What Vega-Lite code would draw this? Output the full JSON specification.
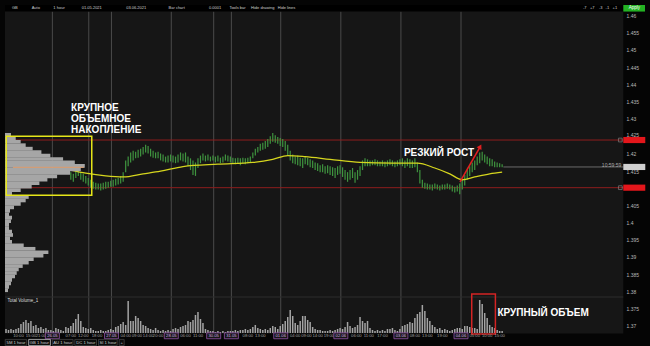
{
"$schema": "https://vega.github.io/schema/vega-lite/v6.json",
"width": 650, "height": 346, "padding": 0, "autosize": "none",
"background": "#050505",
"config": {"view": {"fill": "#050505", "stroke": null}, "font": "Liberation Sans", "axisX": {"disable": true}, "axisY": {"disable": true}},
"datasets": {
"vol": [{"h":0,"v":4},{"h":1,"v":3},{"h":2,"v":4},{"h":3,"v":3},{"h":4,"v":4},{"h":5,"v":5},{"h":6,"v":9},{"h":7,"v":11},{"h":8,"v":13},{"h":9,"v":10},{"h":10,"v":12},{"h":11,"v":7},{"h":12,"v":8},{"h":13,"v":5},{"h":14,"v":6},{"h":15,"v":4},{"h":16,"v":5},{"h":17,"v":3},{"h":18,"v":3},{"h":19,"v":2},{"h":20,"v":5},{"h":21,"v":4},{"h":22,"v":3},{"h":23,"v":2},{"h":24,"v":6},{"h":25,"v":5},{"h":26,"v":7},{"h":27,"v":10},{"h":28,"v":14},{"h":29,"v":19},{"h":30,"v":12},{"h":31,"v":6},{"h":32,"v":5},{"h":33,"v":4},{"h":34,"v":5},{"h":35,"v":3},{"h":36,"v":2},{"h":37,"v":2},{"h":38,"v":3},{"h":39,"v":2},{"h":40,"v":2},{"h":41,"v":3},{"h":42,"v":4},{"h":43,"v":3},{"h":44,"v":6},{"h":45,"v":7},{"h":46,"v":9},{"h":47,"v":11},{"h":48,"v":8},{"h":49,"v":32},{"h":50,"v":12},{"h":51,"v":12},{"h":52,"v":17},{"h":53,"v":15},{"h":54,"v":12},{"h":55,"v":8},{"h":56,"v":7},{"h":57,"v":5},{"h":58,"v":4},{"h":59,"v":3},{"h":60,"v":5},{"h":61,"v":3},{"h":62,"v":2},{"h":63,"v":3},{"h":64,"v":2},{"h":65,"v":3},{"h":66,"v":2},{"h":67,"v":4},{"h":68,"v":5},{"h":69,"v":4},{"h":70,"v":6},{"h":71,"v":7},{"h":72,"v":8},{"h":73,"v":12},{"h":74,"v":11},{"h":75,"v":13},{"h":76,"v":18},{"h":77,"v":21},{"h":78,"v":14},{"h":79,"v":10},{"h":80,"v":4},{"h":81,"v":3},{"h":82,"v":2},{"h":83,"v":2},{"h":84,"v":1},{"h":85,"v":2},{"h":86,"v":1},{"h":87,"v":2},{"h":88,"v":1},{"h":89,"v":2},{"h":90,"v":2},{"h":91,"v":2},{"h":92,"v":3},{"h":93,"v":2},{"h":94,"v":3},{"h":95,"v":3},{"h":96,"v":4},{"h":97,"v":3},{"h":98,"v":4},{"h":99,"v":6},{"h":100,"v":8},{"h":101,"v":5},{"h":102,"v":4},{"h":103,"v":3},{"h":104,"v":4},{"h":105,"v":3},{"h":106,"v":5},{"h":107,"v":7},{"h":108,"v":6},{"h":109,"v":4},{"h":110,"v":7},{"h":111,"v":9},{"h":112,"v":12},{"h":113,"v":16},{"h":114,"v":23},{"h":115,"v":17},{"h":116,"v":10},{"h":117,"v":8},{"h":118,"v":12},{"h":119,"v":17},{"h":120,"v":17},{"h":121,"v":13},{"h":122,"v":11},{"h":123,"v":6},{"h":124,"v":4},{"h":125,"v":3},{"h":126,"v":3},{"h":127,"v":2},{"h":128,"v":2},{"h":129,"v":2},{"h":130,"v":3},{"h":131,"v":2},{"h":132,"v":3},{"h":133,"v":4},{"h":134,"v":5},{"h":135,"v":4},{"h":136,"v":6},{"h":137,"v":11},{"h":138,"v":7},{"h":139,"v":5},{"h":140,"v":6},{"h":141,"v":8},{"h":142,"v":16},{"h":143,"v":12},{"h":144,"v":10},{"h":145,"v":12},{"h":146,"v":5},{"h":147,"v":3},{"h":148,"v":2},{"h":149,"v":3},{"h":150,"v":2},{"h":151,"v":3},{"h":152,"v":2},{"h":153,"v":4},{"h":154,"v":4},{"h":155,"v":5},{"h":156,"v":3},{"h":157,"v":2},{"h":158,"v":4},{"h":159,"v":7},{"h":160,"v":8},{"h":161,"v":9},{"h":162,"v":11},{"h":163,"v":10},{"h":164,"v":15},{"h":165,"v":19},{"h":166,"v":21},{"h":167,"v":28},{"h":168,"v":22},{"h":169,"v":15},{"h":170,"v":12},{"h":171,"v":8},{"h":172,"v":6},{"h":173,"v":4},{"h":174,"v":5},{"h":175,"v":3},{"h":176,"v":4},{"h":177,"v":3},{"h":178,"v":2},{"h":179,"v":3},{"h":180,"v":4},{"h":181,"v":5},{"h":182,"v":5},{"h":183,"v":4},{"h":184,"v":7},{"h":185,"v":7},{"h":186,"v":6},{"h":187,"v":5},{"h":188,"v":5},{"h":189,"v":4},{"h":190,"v":33},{"h":191,"v":29},{"h":192,"v":20},{"h":193,"v":15},{"h":194,"v":8},{"h":195,"v":6},{"h":196,"v":5},{"h":197,"v":3},{"h":198,"v":2},{"h":199,"v":2}],
"ohlc": [{"h":26,"lo":1.4125,"hi":1.4147},{"h":27,"lo":1.4119,"hi":1.4142},{"h":28,"lo":1.413,"hi":1.4153},{"h":29,"lo":1.4136,"hi":1.4158},{"h":30,"lo":1.4125,"hi":1.4147},{"h":31,"lo":1.4119,"hi":1.4142},{"h":32,"lo":1.4114,"hi":1.4136},{"h":33,"lo":1.4108,"hi":1.413},{"h":34,"lo":1.4102,"hi":1.4125},{"h":35,"lo":1.4099,"hi":1.4119},{"h":36,"lo":1.4097,"hi":1.4116},{"h":37,"lo":1.4097,"hi":1.4114},{"h":38,"lo":1.4094,"hi":1.4114},{"h":39,"lo":1.4097,"hi":1.4116},{"h":40,"lo":1.4099,"hi":1.4119},{"h":41,"lo":1.4102,"hi":1.4119},{"h":42,"lo":1.4105,"hi":1.4122},{"h":43,"lo":1.4105,"hi":1.4125},{"h":44,"lo":1.4108,"hi":1.4128},{"h":45,"lo":1.4111,"hi":1.413},{"h":46,"lo":1.4114,"hi":1.4136},{"h":47,"lo":1.4119,"hi":1.4147},{"h":48,"lo":1.4147,"hi":1.4181},{"h":49,"lo":1.4164,"hi":1.4192},{"h":50,"lo":1.4175,"hi":1.4204},{"h":51,"lo":1.4181,"hi":1.4209},{"h":52,"lo":1.4187,"hi":1.4206},{"h":53,"lo":1.4189,"hi":1.4212},{"h":54,"lo":1.4192,"hi":1.4215},{"h":55,"lo":1.4198,"hi":1.422},{"h":56,"lo":1.4204,"hi":1.4226},{"h":57,"lo":1.4201,"hi":1.4223},{"h":58,"lo":1.4192,"hi":1.4215},{"h":59,"lo":1.4189,"hi":1.4209},{"h":60,"lo":1.4187,"hi":1.4204},{"h":61,"lo":1.4187,"hi":1.4206},{"h":62,"lo":1.4181,"hi":1.4201},{"h":63,"lo":1.4178,"hi":1.4198},{"h":64,"lo":1.4175,"hi":1.4192},{"h":65,"lo":1.4175,"hi":1.4195},{"h":66,"lo":1.4178,"hi":1.4198},{"h":67,"lo":1.4175,"hi":1.4195},{"h":68,"lo":1.4173,"hi":1.4192},{"h":69,"lo":1.4175,"hi":1.4198},{"h":70,"lo":1.4181,"hi":1.4204},{"h":71,"lo":1.4178,"hi":1.4201},{"h":72,"lo":1.4175,"hi":1.4204},{"h":73,"lo":1.4164,"hi":1.4192},{"h":74,"lo":1.4153,"hi":1.4187},{"h":75,"lo":1.4139,"hi":1.4181},{"h":76,"lo":1.4136,"hi":1.4175},{"h":77,"lo":1.4159,"hi":1.4187},{"h":78,"lo":1.4173,"hi":1.4195},{"h":79,"lo":1.4181,"hi":1.4201},{"h":80,"lo":1.4178,"hi":1.4195},{"h":81,"lo":1.4181,"hi":1.4198},{"h":82,"lo":1.4178,"hi":1.4192},{"h":83,"lo":1.4181,"hi":1.4195},{"h":84,"lo":1.4175,"hi":1.4192},{"h":85,"lo":1.4178,"hi":1.4195},{"h":86,"lo":1.4173,"hi":1.4189},{"h":87,"lo":1.4175,"hi":1.4192},{"h":88,"lo":1.4181,"hi":1.4198},{"h":89,"lo":1.4178,"hi":1.4195},{"h":90,"lo":1.4175,"hi":1.4192},{"h":91,"lo":1.4173,"hi":1.4189},{"h":92,"lo":1.417,"hi":1.4187},{"h":93,"lo":1.4173,"hi":1.4189},{"h":94,"lo":1.4167,"hi":1.4187},{"h":95,"lo":1.4173,"hi":1.4189},{"h":96,"lo":1.417,"hi":1.4187},{"h":97,"lo":1.4173,"hi":1.4189},{"h":98,"lo":1.4175,"hi":1.4192},{"h":99,"lo":1.4187,"hi":1.4204},{"h":100,"lo":1.4195,"hi":1.4215},{"h":101,"lo":1.4204,"hi":1.422},{"h":102,"lo":1.4209,"hi":1.4229},{"h":103,"lo":1.4212,"hi":1.4232},{"h":104,"lo":1.4215,"hi":1.4237},{"h":105,"lo":1.422,"hi":1.4243},{"h":106,"lo":1.4229,"hi":1.4251},{"h":107,"lo":1.4235,"hi":1.426},{"h":108,"lo":1.4232,"hi":1.4254},{"h":109,"lo":1.4229,"hi":1.4249},{"h":110,"lo":1.4223,"hi":1.4246},{"h":111,"lo":1.422,"hi":1.4243},{"h":112,"lo":1.4209,"hi":1.4237},{"h":113,"lo":1.4195,"hi":1.4226},{"h":114,"lo":1.4181,"hi":1.4209},{"h":115,"lo":1.4173,"hi":1.4198},{"h":116,"lo":1.417,"hi":1.4192},{"h":117,"lo":1.4167,"hi":1.4195},{"h":118,"lo":1.4164,"hi":1.4189},{"h":119,"lo":1.4159,"hi":1.4187},{"h":120,"lo":1.417,"hi":1.4192},{"h":121,"lo":1.4167,"hi":1.4189},{"h":122,"lo":1.4161,"hi":1.4184},{"h":123,"lo":1.4159,"hi":1.4181},{"h":124,"lo":1.4153,"hi":1.4175},{"h":125,"lo":1.415,"hi":1.4173},{"h":126,"lo":1.4147,"hi":1.4167},{"h":127,"lo":1.4147,"hi":1.417},{"h":128,"lo":1.4142,"hi":1.4164},{"h":129,"lo":1.4144,"hi":1.4167},{"h":130,"lo":1.4139,"hi":1.4164},{"h":131,"lo":1.4136,"hi":1.4161},{"h":132,"lo":1.413,"hi":1.4159},{"h":133,"lo":1.4139,"hi":1.4164},{"h":134,"lo":1.4142,"hi":1.4167},{"h":135,"lo":1.4133,"hi":1.4161},{"h":136,"lo":1.4125,"hi":1.4153},{"h":137,"lo":1.4119,"hi":1.4147},{"h":138,"lo":1.4125,"hi":1.4153},{"h":139,"lo":1.413,"hi":1.4159},{"h":140,"lo":1.4116,"hi":1.4147},{"h":141,"lo":1.4125,"hi":1.4153},{"h":142,"lo":1.4136,"hi":1.4164},{"h":143,"lo":1.4153,"hi":1.4181},{"h":144,"lo":1.4164,"hi":1.4187},{"h":145,"lo":1.4164,"hi":1.4184},{"h":146,"lo":1.4164,"hi":1.4181},{"h":147,"lo":1.4167,"hi":1.4181},{"h":148,"lo":1.4167,"hi":1.4184},{"h":149,"lo":1.4164,"hi":1.4181},{"h":150,"lo":1.4164,"hi":1.4178},{"h":151,"lo":1.4164,"hi":1.4181},{"h":152,"lo":1.4161,"hi":1.4178},{"h":153,"lo":1.4164,"hi":1.4181},{"h":154,"lo":1.4167,"hi":1.4184},{"h":155,"lo":1.4164,"hi":1.4181},{"h":156,"lo":1.4161,"hi":1.4178},{"h":157,"lo":1.4164,"hi":1.4181},{"h":158,"lo":1.4167,"hi":1.4184},{"h":159,"lo":1.4164,"hi":1.4187},{"h":160,"lo":1.4159,"hi":1.4181},{"h":161,"lo":1.4164,"hi":1.4187},{"h":162,"lo":1.4159,"hi":1.4184},{"h":163,"lo":1.4159,"hi":1.4181},{"h":164,"lo":1.4161,"hi":1.4187},{"h":165,"lo":1.4147,"hi":1.4175},{"h":166,"lo":1.4114,"hi":1.4153},{"h":167,"lo":1.4102,"hi":1.4125},{"h":168,"lo":1.4099,"hi":1.4116},{"h":169,"lo":1.4097,"hi":1.4114},{"h":170,"lo":1.4097,"hi":1.4111},{"h":171,"lo":1.4094,"hi":1.4111},{"h":172,"lo":1.4099,"hi":1.4114},{"h":173,"lo":1.4097,"hi":1.4111},{"h":174,"lo":1.4094,"hi":1.4108},{"h":175,"lo":1.4097,"hi":1.4111},{"h":176,"lo":1.4097,"hi":1.4111},{"h":177,"lo":1.4099,"hi":1.4114},{"h":178,"lo":1.4097,"hi":1.4111},{"h":179,"lo":1.4091,"hi":1.4108},{"h":180,"lo":1.4088,"hi":1.4105},{"h":181,"lo":1.4091,"hi":1.4108},{"h":182,"lo":1.4083,"hi":1.4114},{"h":183,"lo":1.4097,"hi":1.4125},{"h":184,"lo":1.4108,"hi":1.4139},{"h":185,"lo":1.4125,"hi":1.4153},{"h":186,"lo":1.4136,"hi":1.4164},{"h":187,"lo":1.4147,"hi":1.4175},{"h":188,"lo":1.4153,"hi":1.4181},{"h":189,"lo":1.4167,"hi":1.4192},{"h":190,"lo":1.4173,"hi":1.4204},{"h":191,"lo":1.4181,"hi":1.4206},{"h":192,"lo":1.4175,"hi":1.4198},{"h":193,"lo":1.417,"hi":1.4192},{"h":194,"lo":1.4164,"hi":1.4187},{"h":195,"lo":1.4164,"hi":1.4184},{"h":196,"lo":1.4161,"hi":1.4178},{"h":197,"lo":1.4161,"hi":1.4175},{"h":198,"lo":1.4161,"hi":1.4173},{"h":199,"lo":1.4161,"hi":1.417}],
"ma": [{"h":26,"ma":1.4153},{"h":32,"ma":1.4144},{"h":40,"ma":1.4136},{"h":47,"ma":1.4133},{"h":55,"ma":1.4142},{"h":62,"ma":1.415},{"h":71,"ma":1.4163},{"h":85,"ma":1.417},{"h":99,"ma":1.4175},{"h":107,"ma":1.4184},{"h":113,"ma":1.4195},{"h":120,"ma":1.4192},{"h":130,"ma":1.4184},{"h":142,"ma":1.4175},{"h":155,"ma":1.4173},{"h":165,"ma":1.4173},{"h":172,"ma":1.4159},{"h":178,"ma":1.4142},{"h":183,"ma":1.4125},{"h":188,"ma":1.4133},{"h":194,"ma":1.4142},{"h":199,"ma":1.4147}],
"profile": [{"p":1.4255,"w":2.0},{"p":1.4245,"w":3.9},{"p":1.4235,"w":5.9},{"p":1.4225,"w":7.9},{"p":1.4215,"w":10.7},{"p":1.4205,"w":14.2},{"p":1.4195,"w":17.8},{"p":1.4185,"w":22.9},{"p":1.4175,"w":27.6},{"p":1.4165,"w":31.6},{"p":1.4155,"w":30.0},{"p":1.4145,"w":25.7},{"p":1.4135,"w":20.5},{"p":1.4125,"w":16.6},{"p":1.4115,"w":13.4},{"p":1.4105,"w":10.3},{"p":1.4095,"w":5.9},{"p":1.4085,"w":2.4},{"p":1.4075,"w":9.1},{"p":1.4065,"w":7.9},{"p":1.4055,"w":5.9},{"p":1.4045,"w":3.2},{"p":1.4035,"w":1.6},{"p":1.4025,"w":1.2},{"p":1.4015,"w":2.4},{"p":1.4005,"w":2.0},{"p":1.3995,"w":1.2},{"p":1.3985,"w":1.2},{"p":1.3975,"w":2.4},{"p":1.3965,"w":2.8},{"p":1.3955,"w":1.6},{"p":1.3945,"w":2.4},{"p":1.3935,"w":7.1},{"p":1.3925,"w":11.8},{"p":1.3915,"w":17.0},{"p":1.3905,"w":15.0},{"p":1.3895,"w":11.1},{"p":1.3885,"w":9.1},{"p":1.3875,"w":6.7},{"p":1.3865,"w":5.1},{"p":1.3855,"w":4.3},{"p":1.3845,"w":3.6},{"p":1.3835,"w":2.4},{"p":1.3825,"w":2.0},{"p":1.3815,"w":1.2},{"p":1.3805,"w":0.8}],
"days": [{"h":18.6},{"h":33.2},{"h":42.3},{"h":66.3},{"h":83.3},{"h":90.4},{"h":110.2},{"h":134.3},{"h":158.4},{"h":182.5}],
"dates": [{"h":18.6,"t":"26.05"},{"h":42.3,"t":"27.05"},{"h":66.3,"t":"28.05"},{"h":83.3,"t":"30.05"},{"h":90.4,"t":"31.05"},{"h":110.2,"t":"01.06"},{"h":134.3,"t":"02.06"},{"h":158.4,"t":"03.06"},{"h":182.5,"t":"04.06"}],
"times": [{"h":5,"t":"10:00"},{"h":10,"t":"15:00"},{"h":14,"t":"21:00"},{"h":26,"t":"07:00"},{"h":31,"t":"12:00"},{"h":36.5,"t":"18:00"},{"h":48,"t":"04:00"},{"h":52.5,"t":"09:00"},{"h":57,"t":"14:00"},{"h":61,"t":"20:00"},{"h":72,"t":"06:00"},{"h":77,"t":"11:00"},{"h":97,"t":"08:00"},{"h":102,"t":"13:00"},{"h":116,"t":"04:00"},{"h":120.5,"t":"09:00"},{"h":125,"t":"14:00"},{"h":129.5,"t":"19:00"},{"h":140.5,"t":"06:00"},{"h":145.5,"t":"11:00"},{"h":151,"t":"17:00"},{"h":164,"t":"08:00"},{"h":169,"t":"13:00"},{"h":175,"t":"19:00"},{"h":188,"t":"05:00"},{"h":193,"t":"10:00"},{"h":198,"t":"15:00"}],
"ticks": [{"p":1.46,"t":"1.46"},{"p":1.455,"t":"1.455"},{"p":1.45,"t":"1.45"},{"p":1.445,"t":"1.445"},{"p":1.44,"t":"1.44"},{"p":1.435,"t":"1.435"},{"p":1.43,"t":"1.43"},{"p":1.4255,"t":"1.425"},{"p":1.42,"t":"1.42"},{"p":1.4148,"t":"1.415"},{"p":1.405,"t":"1.405"},{"p":1.4,"t":"1.4"},{"p":1.395,"t":"1.395"},{"p":1.39,"t":"1.39"},{"p":1.385,"t":"1.385"},{"p":1.38,"t":"1.38"},{"p":1.375,"t":"1.375"},{"p":1.37,"t":"1.37"}],
"levels": [{"p":1.424,"t":"1.4240","kind":"level"},{"p":1.4102,"t":"1.4102","kind":"level"},{"p":1.4162,"t":"1.4162","kind":"last"}],
"notes": [{"h":26.1,"p":1.4333,"t":"КРУПНОЕ"},{"h":26.1,"p":1.4301,"t":"ОБЪЕМНОЕ"},{"h":26.1,"p":1.4268,"t":"НАКОПЛЕНИЕ"},{"h":159.6,"p":1.4201,"t":"РЕЗКИЙ РОСТ"}],
"toolbar": [{"h":2.4,"t":"GB"},{"h":10.3,"t":"Auto"},{"h":19,"t":"1 hour"},{"h":30.4,"t":"01.05.2021"},{"h":48.2,"t":"03.06.2021"},{"h":65.2,"t":"Bar chart"},{"h":81.4,"t":"0.0001"},{"h":89.6,"t":"Tools bar"},{"h":98.3,"t":"Hide drawing"},{"h":109,"t":"Hide lines"},{"h":231.4,"t":"-7"},{"h":234.2,"t":"+7"},{"h":237.8,"t":"-3"},{"h":240.5,"t":"-1"},{"h":243.3,"t":"+1"}],
"tabs": [{"h1":-0.3,"h2":8.3,"hc":4,"t":"5M 1 hour","sel":"no"},{"h1":9.1,"h2":17.8,"hc":13.4,"t":"GB 1 hour","sel":"yes"},{"h1":18.6,"h2":26.9,"hc":22.7,"t":"AU 1 hour","sel":"no"},{"h1":27.6,"h2":36.3,"hc":32,"t":"DC 1 hour","sel":"no"},{"h1":37.1,"h2":44.6,"hc":40.9,"t":"SI 1 hour","sel":"no"},{"h1":45.4,"h2":47.4,"hc":46.4,"t":"+","sel":"no"}]
},
"layer": [
{
"layer": [
{"data": {"values": [{"h1": -0.4, "h2": 247.6, "p1": 1.368, "p2": 1.4631}]},
 "mark": {"type": "rect", "fill": "#161616"},
 "encoding": {
  "x": {"field": "h1", "type": "quantitative", "scale": {"domain": [-0.4, 256.3], "nice": false, "zero": false}},
  "x2": {"field": "h2"},
  "y": {"field": "p1", "type": "quantitative", "scale": {"domain": [1.3658, 1.4631], "nice": false, "zero": false}},
  "y2": {"field": "p2"}}},
{"data": {"name": "ticks"},
 "mark": {"type": "text", "align": "left", "baseline": "middle", "fontSize": 5, "color": "#b8b8b8"},
 "encoding": {"x": {"datum": 248.9}, "y": {"field": "p", "type": "quantitative"}, "text": {"field": "t"}}},
{"data": {"name": "days"},
 "mark": {"type": "rule", "color": "#4a4a4a", "strokeWidth": 1},
 "encoding": {"x": {"field": "h", "type": "quantitative"}, "y": {"datum": 1.4612}, "y2": {"datum": 1.368}}},
{"data": {"name": "levels"}, "transform": [{"filter": "datum.kind == 'level'"}],
 "mark": {"type": "rule", "color": "#8e1e1e", "strokeWidth": 1},
 "encoding": {"y": {"field": "p", "type": "quantitative"}, "x": {"datum": -0.4}, "x2": {"datum": 247.6}}},
{"data": {"name": "levels"}, "transform": [{"filter": "datum.kind == 'last'"}],
 "mark": {"type": "rule", "color": "#6a6a6a", "strokeWidth": 1},
 "encoding": {"y": {"field": "p", "type": "quantitative"}, "x": {"datum": 199.5}, "x2": {"datum": 247.6}}},
{"data": {"name": "ohlc"},
 "mark": {"type": "rule", "color": "#3f943f", "strokeWidth": 1.2},
 "encoding": {"x": {"field": "h", "type": "quantitative"}, "y": {"field": "lo", "type": "quantitative"}, "y2": {"field": "hi"}}},
{"data": {"name": "ma"},
 "mark": {"type": "line", "color": "#d6d61e", "strokeWidth": 1.3, "interpolate": "monotone"},
 "encoding": {"x": {"field": "h", "type": "quantitative"}, "y": {"field": "ma", "type": "quantitative"}}},
{"data": {"name": "profile"},
 "mark": {"type": "bar", "orient": "horizontal", "size": 3.7, "color": "#a6a6a6"},
 "encoding": {"y": {"field": "p", "type": "quantitative"}, "x": {"field": "w", "type": "quantitative"}, "x2": {"datum": -0.4}}},
{"data": {"values": [{"h1": 2.8, "h2": 31.2, "p": 1.4161}]},
 "mark": {"type": "rule", "color": "#e3a070", "strokeWidth": 1},
 "encoding": {"x": {"field": "h1", "type": "quantitative"}, "x2": {"field": "h2"}, "y": {"field": "p", "type": "quantitative"}}},
{"data": {"values": [{"h1": 0.1, "h2": 34.4, "p1": 1.4251, "p2": 1.408}]},
 "mark": {"type": "rect", "filled": false, "stroke": "#e6e619", "strokeWidth": 1.5},
 "encoding": {"x": {"field": "h1", "type": "quantitative"}, "x2": {"field": "h2"}, "y": {"field": "p1", "type": "quantitative"}, "y2": {"field": "p2"}}},
{"data": {"values": [{"h1": 182.1, "h2": 190, "p1": 1.4119, "p2": 1.4218}]},
 "mark": {"type": "rule", "color": "#e02020", "strokeWidth": 1.6},
 "encoding": {"x": {"field": "h1", "type": "quantitative"}, "x2": {"field": "h2"}, "y": {"field": "p1", "type": "quantitative"}, "y2": {"field": "p2"}}},
{"data": {"values": [{"h": 190.2, "p": 1.4221}]},
 "mark": {"type": "point", "shape": "triangle-up", "angle": 29, "size": 30, "filled": true, "color": "#e02020", "opacity": 1},
 "encoding": {"x": {"field": "h", "type": "quantitative"}, "y": {"field": "p", "type": "quantitative"}}},
{"data": {"name": "notes"},
 "mark": {"type": "text", "align": "left", "baseline": "middle", "fontSize": 10, "fontWeight": "bold", "color": "#ffffff"},
 "encoding": {"x": {"field": "h", "type": "quantitative"}, "y": {"field": "p", "type": "quantitative"}, "text": {"field": "t"}}},
{"data": {"name": "levels"}, "transform": [{"filter": "datum.kind == 'level'"}],
 "mark": {"type": "point", "shape": "square", "size": 14, "filled": false, "color": "#9a9a9a", "strokeWidth": 0.8},
 "encoding": {"x": {"datum": 246.4}, "y": {"field": "p", "type": "quantitative"}}},
{"data": {"name": "levels"},
 "mark": {"type": "point", "shape": "M-1,-0.28H1V0.28H-1Z", "size": 484, "filled": true, "opacity": 1},
 "encoding": {"x": {"datum": 252}, "y": {"field": "p", "type": "quantitative"},
  "color": {"field": "kind", "type": "nominal", "scale": {"domain": ["level", "last"], "range": ["#e3161b", "#cfcfcf"]}, "legend": null}}},
{"data": {"name": "levels"},
 "mark": {"type": "text", "align": "center", "baseline": "middle", "fontSize": 5},
 "encoding": {"x": {"datum": 252}, "y": {"field": "p", "type": "quantitative"}, "text": {"field": "t"},
  "color": {"field": "kind", "type": "nominal", "scale": {"domain": ["level", "last"], "range": ["#ffd0d0", "#111111"]}, "legend": null}}},
{"data": {"values": [{"h": 246.8, "p": 1.4168, "t": "10:59:59"}]},
 "mark": {"type": "text", "align": "right", "baseline": "middle", "fontSize": 5, "color": "#aaaaaa"},
 "encoding": {"x": {"field": "h", "type": "quantitative"}, "y": {"field": "p", "type": "quantitative"}, "text": {"field": "t"}}},
{"data": {"values": [{"h1": -0.4, "h2": 247.6, "p1": 1.4612, "p2": 1.4631}]},
 "mark": {"type": "rect", "fill": "#000000"},
 "encoding": {"x": {"field": "h1", "type": "quantitative"}, "x2": {"field": "h2"}, "y": {"field": "p1", "type": "quantitative"}, "y2": {"field": "p2"}}},
{"data": {"values": [{"h1": 247.6, "h2": 256.3, "p1": 1.4612, "p2": 1.4631, "hc": 252, "pc": 1.46215, "t": "Apply"}]},
 "layer": [
  {"mark": {"type": "rect", "fill": "#23b223"},
   "encoding": {"x": {"field": "h1", "type": "quantitative"}, "x2": {"field": "h2"}, "y": {"field": "p1", "type": "quantitative"}, "y2": {"field": "p2"}}},
  {"mark": {"type": "text", "fontSize": 4.5, "color": "#ffffff", "baseline": "middle"},
   "encoding": {"x": {"field": "hc", "type": "quantitative"}, "y": {"field": "pc", "type": "quantitative"}, "text": {"field": "t"}}}]},
{"data": {"name": "toolbar"},
 "mark": {"type": "text", "fontSize": 4, "color": "#cfcfcf", "baseline": "middle", "align": "left"},
 "encoding": {"x": {"field": "h", "type": "quantitative"}, "y": {"datum": 1.46215}, "text": {"field": "t"}}}
]
},
{
"layer": [
{"data": {"name": "vol"},
 "mark": {"type": "bar", "width": 1.5, "color": "#a4a4a4"},
 "encoding": {"x": {"field": "h", "type": "quantitative"},
  "y": {"field": "v", "type": "quantitative", "scale": {"domain": [-13, 333], "nice": false, "zero": false}},
  "y2": {"datum": 0}}},
{"data": {"values": [{"h1": -0.4, "h2": 247.6, "v": 36}]},
 "mark": {"type": "rule", "color": "#2c2c2c", "strokeWidth": 1},
 "encoding": {"x": {"field": "h1", "type": "quantitative"}, "x2": {"field": "h2"}, "y": {"field": "v", "type": "quantitative"}}},
{"data": {"values": [{"h": 0.6, "v": 32.5, "t": "Total Volume_1"}]},
 "mark": {"type": "text", "align": "left", "baseline": "middle", "fontSize": 4.5, "color": "#dddddd"},
 "encoding": {"x": {"field": "h", "type": "quantitative"}, "y": {"field": "v", "type": "quantitative"}, "text": {"field": "t"}}},
{"data": {"values": [{"h1": 186.8, "h2": 196.3, "v1": -1, "v2": 39}]},
 "mark": {"type": "rect", "filled": false, "stroke": "#d42424", "strokeWidth": 1.5},
 "encoding": {"x": {"field": "h1", "type": "quantitative"}, "x2": {"field": "h2"}, "y": {"field": "v1", "type": "quantitative"}, "y2": {"field": "v2"}}},
{"data": {"values": [{"h": 197.1, "v": 20, "t": "КРУПНЫЙ ОБЪЕМ"}]},
 "mark": {"type": "text", "align": "left", "baseline": "middle", "fontSize": 10, "fontWeight": "bold", "color": "#ffffff"},
 "encoding": {"x": {"field": "h", "type": "quantitative"}, "y": {"field": "v", "type": "quantitative"}, "text": {"field": "t"}}},
{"data": {"name": "times"},
 "mark": {"type": "text", "baseline": "middle", "fontSize": 4.2, "color": "#a0a0a0"},
 "encoding": {"x": {"field": "h", "type": "quantitative"}, "y": {"datum": -2.8}, "text": {"field": "t"}}},
{"data": {"name": "dates"},
 "mark": {"type": "point", "shape": "M-1,-0.42H1V0.42H-1Z", "size": 196, "filled": false, "stroke": "#9050a8", "fill": "#161616", "fillOpacity": 1, "strokeWidth": 0.8, "opacity": 1},
 "encoding": {"x": {"field": "h", "type": "quantitative"}, "y": {"datum": -2.8}}},
{"data": {"name": "dates"},
 "mark": {"type": "text", "baseline": "middle", "fontSize": 4.2, "color": "#d8aee8"},
 "encoding": {"x": {"field": "h", "type": "quantitative"}, "y": {"datum": -2.8}, "text": {"field": "t"}}},
{"data": {"name": "tabs"},
 "mark": {"type": "rect", "fill": "#0c0c0c", "strokeWidth": 0.7},
 "encoding": {"x": {"field": "h1", "type": "quantitative"}, "x2": {"field": "h2"}, "y": {"datum": -12.6}, "y2": {"datum": -6.4},
  "stroke": {"field": "sel", "type": "nominal", "scale": {"domain": ["no", "yes"], "range": ["#4a4a4a", "#e0e0e0"]}, "legend": null}}},
{"data": {"name": "tabs"},
 "mark": {"type": "text", "baseline": "middle", "fontSize": 4.2, "color": "#cccccc"},
 "encoding": {"x": {"field": "hc", "type": "quantitative"}, "y": {"datum": -9.5}, "text": {"field": "t"}}}
]
}
],
"resolve": {"scale": {"y": "independent"}}
}
